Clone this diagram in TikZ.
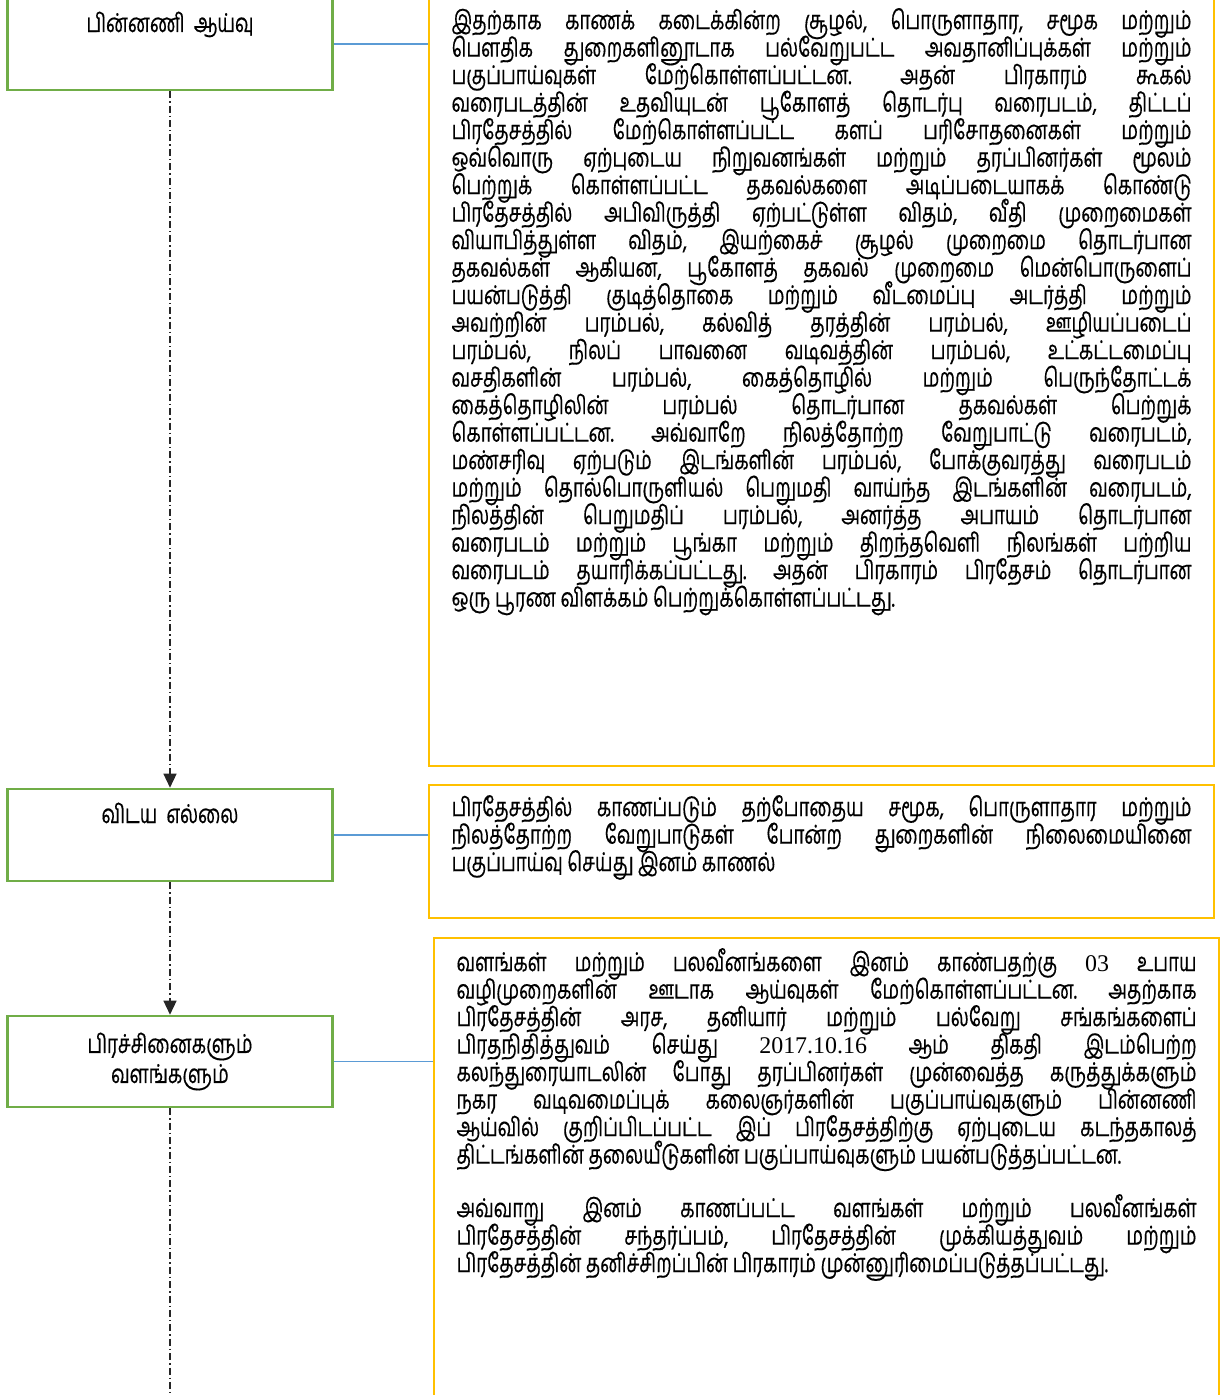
\documentclass[tikz,border=0pt]{standalone}
\usepackage{fontspec}
\setmainfont[Script=Tamil, FakeStretch=0.72, FakeBold=0.4]{Hind Madurai}
\newfontfamily\latinfont[Scale=0.92]{Liberation Serif}
\usetikzlibrary{arrows.meta}
\definecolor{stagegreen}{HTML}{70AD47}
\definecolor{notegold}{HTML}{FFC000}
\definecolor{linkblue}{HTML}{5B9BD5}
\tikzstyle{stage} = [draw=stagegreen, rectangle, line width=1.3pt, minimum width=162.5pt, minimum height=45.5pt, align=center, font=\fontsize{13}{15}\selectfont]
\tikzstyle{toptext} = [text height=12pt, text depth=24pt, inner ysep=5pt]
\tikzstyle{note} = [draw=notegold, rectangle, line width=1.1pt, inner xsep=11.25pt, inner ysep=5pt, anchor=north west, font=\fontsize{13}{13.75}\selectfont]
\tikzstyle{flow} = [black!85, line width=0.7pt, dash pattern=on 3.5pt off 1.5pt on 0.7pt off 1.5pt, -{Triangle[length=7pt,width=6.5pt]}]
\tikzstyle{link} = [linkblue, line width=0.6pt]
\newcommand{\notetext}[2]{\parbox[c][#1][t]{370pt}{\lineskiplimit=-20pt\tolerance=10000\frenchspacing #2}}

\begin{document}
\begin{tikzpicture}[x=0.5pt, y=-0.5pt, node distance=395.5pt]
            \useasboundingbox (0,0) rectangle (1223,1395);
            % Defining nodes
            \node[stage, toptext] (Background) at (170,44) {பின்னணி\ \ ஆய்வு};
            \node[stage, toptext, below of=Background] (Scope) {விடய\ \ எல்லை};
            \node[stage, below of=Scope, node distance=113.25pt] (Issues) {பிரச்சினைகளும்\\வளங்களும்};
            \coordinate (End) at (170,1400);

            \node[note] (BackgroundNote) at (428,-3) {\notetext{374pt}{%
இதற்காக காணக் கடைக்கின்ற சூழல், பொருளாதார, சமூக மற்றும்\linebreak
பௌதிக துறைகளினூடாக பல்வேறுபட்ட அவதானிப்புக்கள் மற்றும்\linebreak
பகுப்பாய்வுகள் மேற்கொள்ளப்பட்டன. அதன் பிரகாரம் கூகல்\linebreak
வரைபடத்தின் உதவியுடன் பூகோளத் தொடர்பு வரைபடம், திட்டப்\linebreak
பிரதேசத்தில் மேற்கொள்ளப்பட்ட களப் பரிசோதனைகள் மற்றும்\linebreak
ஒவ்வொரு ஏற்புடைய நிறுவனங்கள் மற்றும் தரப்பினர்கள் மூலம்\linebreak
பெற்றுக் கொள்ளப்பட்ட தகவல்களை அடிப்படையாகக் கொண்டு\linebreak
பிரதேசத்தில் அபிவிருத்தி ஏற்பட்டுள்ள விதம், வீதி முறைமைகள்\linebreak
வியாபித்துள்ள விதம், இயற்கைச் சூழல் முறைமை தொடர்பான\linebreak
தகவல்கள் ஆகியன, பூகோளத் தகவல் முறைமை மென்பொருளைப்\linebreak
பயன்படுத்தி குடித்தொகை மற்றும் வீடமைப்பு அடர்த்தி மற்றும்\linebreak
அவற்றின் பரம்பல், கல்வித் தரத்தின் பரம்பல், ஊழியப்படைப்\linebreak
பரம்பல், நிலப் பாவனை வடிவத்தின் பரம்பல், உட்கட்டமைப்பு\linebreak
வசதிகளின் பரம்பல், கைத்தொழில் மற்றும் பெருந்தோட்டக்\linebreak
கைத்தொழிலின் பரம்பல் தொடர்பான தகவல்கள் பெற்றுக்\linebreak
கொள்ளப்பட்டன. அவ்வாறே நிலத்தோற்ற வேறுபாட்டு வரைபடம்,\linebreak
மண்சரிவு ஏற்படும் இடங்களின் பரம்பல், போக்குவரத்து வரைபடம்\linebreak
மற்றும் தொல்பொருளியல் பெறுமதி வாய்ந்த இடங்களின் வரைபடம்,\linebreak
நிலத்தின் பெறுமதிப் பரம்பல், அனர்த்த அபாயம் தொடர்பான\linebreak
வரைபடம் மற்றும் பூங்கா மற்றும் திறந்தவெளி நிலங்கள் பற்றிய\linebreak
வரைபடம் தயாரிக்கப்பட்டது. அதன் பிரகாரம் பிரதேசம் தொடர்பான\linebreak
ஒரு பூரண விளக்கம் பெற்றுக்கொள்ளப்பட்டது.}};

            \node[note] (ScopeNote) at (428,784) {\notetext{56.5pt}{%
பிரதேசத்தில் காணப்படும் தற்போதைய சமூக, பொருளாதார மற்றும்\linebreak
நிலத்தோற்ற வேறுபாடுகள் போன்ற துறைகளின் நிலைமையினை\linebreak
பகுப்பாய்வு செய்து இனம் காணல்}};

            \node[note] (IssuesNote) at (433,937) {\notetext{230pt}{%
வளங்கள் மற்றும் பலவீனங்களை இனம் காண்பதற்கு {\latinfont 03} உபாய\linebreak
வழிமுறைகளின் ஊடாக ஆய்வுகள் மேற்கொள்ளப்பட்டன. அதற்காக\linebreak
பிரதேசத்தின் அரச, தனியார் மற்றும் பல்வேறு சங்கங்களைப்\linebreak
பிரதநிதித்துவம் செய்து {\latinfont 2017.10.16} ஆம் திகதி இடம்பெற்ற\linebreak
கலந்துரையாடலின் போது தரப்பினர்கள் முன்வைத்த கருத்துக்களும்\linebreak
நகர வடிவமைப்புக் கலைஞர்களின் பகுப்பாய்வுகளும் பின்னணி\linebreak
ஆய்வில் குறிப்பிடப்பட்ட இப் பிரதேசத்திற்கு ஏற்புடைய கடந்தகாலத்\linebreak
திட்டங்களின் தலையீடுகளின் பகுப்பாய்வுகளும் பயன்படுத்தப்பட்டன.\par
\vspace{13pt}
அவ்வாறு இனம் காணப்பட்ட வளங்கள் மற்றும் பலவீனங்கள்\linebreak
பிரதேசத்தின் சந்தர்ப்பம், பிரதேசத்தின் முக்கியத்துவம் மற்றும்\linebreak
பிரதேசத்தின் தனிச்சிறப்பின் பிரகாரம் முன்னுரிமைப்படுத்தப்பட்டது.}};

            % Drawing diagram
            \draw[flow] (Background.south) -- (Scope.north);
            \draw[flow] (Scope.south) -- (Issues.north);
            \draw[flow, -] (Issues.south) -- (End);
            \draw[link] (Background.east) -- (Background.east -| BackgroundNote.west);
            \draw[link] (Scope.east) -- (Scope.east -| ScopeNote.west);
            \draw[link] (Issues.east) -- (Issues.east -| IssuesNote.west);
        \end{tikzpicture}
\end{document}
